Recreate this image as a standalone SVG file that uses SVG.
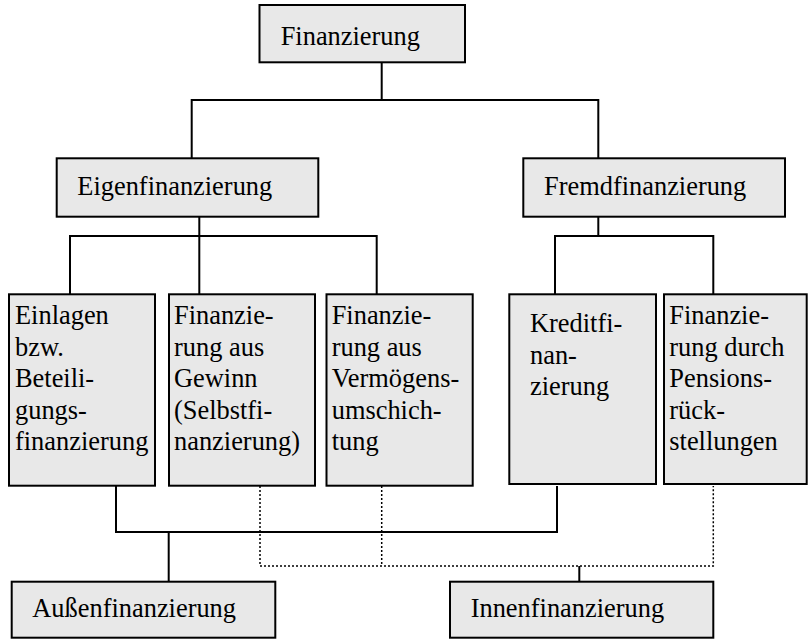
<svg xmlns="http://www.w3.org/2000/svg" width="809" height="639" viewBox="0 0 809 639">
<style>
.box{fill:#e8e8e8;stroke:#000;stroke-width:2}
.c{fill:none;stroke:#000;stroke-width:2}
.d{fill:none;stroke:#000;stroke-width:1.5;stroke-dasharray:2,2}
</style>
<rect width="809" height="639" fill="#fff"/>
<g id="connectors">
<polyline class="c" points="191.7,158 191.7,100 598.3,100 598.3,158"/>
<polyline class="c" points="381.7,62 381.7,100"/>
<polyline class="c" points="199.3,217 199.3,236"/>
<polyline class="c" points="70,294 70,236 376.7,236 376.7,294"/>
<polyline class="c" points="199.3,236 199.3,294"/>
<polyline class="c" points="598.3,217 598.3,236"/>
<polyline class="c" points="555,294 555,236 713.3,236 713.3,294"/>
<polyline class="c" points="116,486 116,532 557,532 557,486"/>
<polyline class="c" points="168.7,532 168.7,582"/>
<polyline class="d" points="260,486 260,566 713.3,566 713.3,486"/>
<polyline class="d" points="381.7,486 381.7,566"/>
<polyline class="c" points="579.3,566 579.3,582"/>
</g>
<g font-family="Liberation Serif, Times New Roman, serif" font-size="26.4" fill="#000">
<g id="finanzierung">
<rect class="box" x="259.5" y="5" width="205.5" height="57.3"/>
<text x="280.7" y="45">Finanzierung</text>
</g>
<g id="eigenfinanzierung">
<rect class="box" x="56.7" y="158.3" width="261.6" height="58.4"/>
<text x="77.3" y="195">Eigenfinanzierung</text>
</g>
<g id="fremdfinanzierung">
<rect class="box" x="523.3" y="158.3" width="261.7" height="58.4"/>
<text x="544" y="195">Fremdfinanzierung</text>
</g>
<g id="einlagen">
<rect class="box" x="9" y="294.3" width="146" height="191.4"/>
<text x="15" y="324">Einlagen</text>
<text x="15" y="355.5">bzw.</text>
<text x="15" y="387">Beteili-</text>
<text x="15" y="418.5">gungs-</text>
<text x="15" y="450">finanzierung</text>
</g>
<g id="gewinn">
<rect class="box" x="169" y="294.3" width="146" height="191.4"/>
<text x="174" y="324">Finanzie-</text>
<text x="174" y="355.5">rung aus</text>
<text x="174" y="387">Gewinn</text>
<text x="174" y="418.5">(Selbstfi-</text>
<text x="174" y="450">nanzierung)</text>
</g>
<g id="vermoegen">
<rect class="box" x="326.5" y="294.3" width="146.2" height="191.4"/>
<text x="331.7" y="324">Finanzie-</text>
<text x="331.7" y="355.5">rung aus</text>
<text x="331.7" y="387">Vermögens-</text>
<text x="331.7" y="418.5">umschich-</text>
<text x="331.7" y="450">tung</text>
</g>
<g id="kredit">
<rect class="box" x="509.3" y="294.3" width="146.7" height="189.7"/>
<text x="530" y="332">Kreditfi-</text>
<text x="530" y="363.5">nan-</text>
<text x="530" y="395">zierung</text>
</g>
<g id="pension">
<rect class="box" x="664" y="294.3" width="142.7" height="189.7"/>
<text x="669.3" y="324">Finanzie-</text>
<text x="669.3" y="355.5">rung durch</text>
<text x="669.3" y="387">Pensions-</text>
<text x="669.3" y="418.5">rück-</text>
<text x="669.3" y="450">stellungen</text>
</g>
<g id="aussen">
<rect class="box" x="11.7" y="581.7" width="263.6" height="56"/>
<text x="32.3" y="616.7">Außenfinanzierung</text>
</g>
<g id="innen">
<rect class="box" x="450" y="581.7" width="263.3" height="56"/>
<text x="470.7" y="616.7">Innenfinanzierung</text>
</g>
</g>
</svg>
